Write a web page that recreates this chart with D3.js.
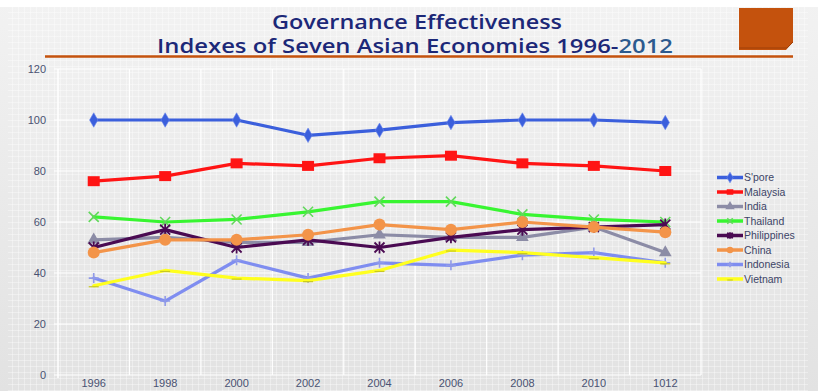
<!DOCTYPE html>
<html><head><meta charset="utf-8">
<script src="https://cdn.jsdelivr.net/npm/d3@7"></script>
<style>
html,body{margin:0;padding:0;background:#ececec;}
svg{display:block;}
</style></head>
<body>
<svg id="chart" width="818" height="391"></svg>
<script>
const years = ["1996","1998","2000","2002","2004","2006","2008","2010","1012"];
const yTicks = [0,20,40,60,80,100,120];
const seriesNames = ["S'pore","Malaysia","India","Thailand","Philippines","China","Indonesia","Vietnam"];
const spore       = [100,100,100,94,96,99,100,100,99];
const malaysia    = [76,78,83,82,85,86,83,82,80];
const india       = [53,54,52,52,55,54,54,58,48];
const thailand    = [62,60,61,64,68,68,63,61,60];
const philippines = [50,57,50,53,50,54,57,58,59];
const china       = [48,53,53,55,59,57,60,58,56];
const indonesia   = [38,29,45,38,44,43,47,48,44];
const vietnam     = [35,41,38,37,41,49,48,46,44];
const seriesValues = [spore,malaysia,india,thailand,philippines,china,indonesia,vietnam];
const colors = ["#3b5fdc","#ff1414","#8c8ca6","#38f531","#4a0a52","#f39449","#7f8df0","#ffff1e"];
const markers = ["diamond","square","triangle","x","star","circle","plus","dash"];

const svg = d3.select("#chart");
const W = 818, H = 391;

// background
const defs = svg.append("defs");
const bg = defs.append("linearGradient").attr("id","bg").attr("x1",0).attr("y1",0).attr("x2",0).attr("y2",1);
bg.append("stop").attr("offset","0%").attr("stop-color","#f2f2f2");
bg.append("stop").attr("offset","100%").attr("stop-color","#e2e2e2");
const pat = defs.append("pattern").attr("id","grid").attr("width",6).attr("height",6).attr("patternUnits","userSpaceOnUse");
pat.append("rect").attr("width",6).attr("height",6).attr("fill","none");
pat.append("path").attr("d","M0,0.5H6M0.5,0V6").attr("stroke","#ffffff").attr("stroke-opacity",0.35).attr("stroke-width",1);
svg.append("rect").attr("width",W).attr("height",H).attr("fill","url(#bg)");
svg.append("rect").attr("x",8).attr("y",0).attr("width",800).attr("height",H).attr("fill","url(#grid)");
svg.append("rect").attr("x",0).attr("y",0).attr("width",W).attr("height",7).attr("fill","#ffffff");

// title
const title = svg.append("g");
title.append("text").attr("x",417).attr("y",29).attr("text-anchor","middle")
  .attr("font-family","'Open Sans', Lato, sans-serif").attr("font-weight",600).attr("font-size",19)
  .attr("textLength",290).attr("lengthAdjust","spacingAndGlyphs")
  .attr("fill","#1c2878").text("Governance Effectiveness");
const t2 = title.append("text").attr("x",415).attr("y",53).attr("text-anchor","middle")
  .attr("font-family","'Open Sans', Lato, sans-serif").attr("font-weight",600).attr("font-size",19)
  .attr("textLength",516).attr("lengthAdjust","spacingAndGlyphs")
  .attr("fill","#1c2878");
t2.append("tspan").text("Indexes of Seven Asian Economies 1996-");
t2.append("tspan").attr("fill","#2c5a8e").text("2012");
svg.append("line").attr("x1",45).attr("x2",793).attr("y1",56.5).attr("y2",56.5)
  .attr("stroke","#c4520d").attr("stroke-width",2.5);
// orange box with bevel
svg.append("path").attr("d","M739,8H793V42L786,50H739Z").attr("fill","#c4520d");
svg.append("path").attr("d","M739,48H787L793,42").attr("fill","none").attr("stroke","#9e3f08").attr("stroke-width",1);

// scales
const x = d3.scaleBand().domain(years).range([58,701]);
const y = d3.scaleLinear().domain([0,120]).range([375,69]);

// gridlines
const grid = svg.append("g");
grid.selectAll("line.h").data(yTicks).join("line")
  .attr("x1",54).attr("x2",701).attr("y1",d=>y(d)).attr("y2",d=>y(d))
  .attr("stroke","#ffffff").attr("stroke-width",1.2);
grid.selectAll("line.v").data(years).join("line")
  .attr("x1",d=>x(d)+x.bandwidth()).attr("x2",d=>x(d)+x.bandwidth())
  .attr("y1",y(120)).attr("y2",y(0))
  .attr("stroke","#ffffff").attr("stroke-width",1.2);
grid.append("line").attr("x1",58).attr("x2",58).attr("y1",y(120)).attr("y2",y(0)+3)
  .attr("stroke","#ffffff").attr("stroke-width",1.5);

// axes
const yAxis = svg.append("g").attr("transform","translate(58,0)")
  .call(d3.axisLeft(y).tickValues(yTicks).tickSize(0).tickPadding(12));
yAxis.select(".domain").remove();
yAxis.selectAll("text").attr("font-family","'Liberation Sans', Arial, sans-serif").attr("font-size",11).attr("fill","#4a5272");
const xAxis = svg.append("g").attr("transform","translate(0,375)")
  .call(d3.axisBottom(x).tickSize(0).tickPadding(4));
xAxis.select(".domain").remove();
xAxis.selectAll("text").attr("font-family","'Liberation Sans', Arial, sans-serif").attr("font-size",11).attr("fill","#4a5272");

// marker drawing
function drawMarker(g, type, color, cx, cy, scale) {
  const s = scale || 1;
  switch(type) {
    case "diamond":
      g.append("path").attr("d",d3.symbol(d3.symbolDiamond, 60*s)()).attr("transform",`translate(${cx},${cy})`).attr("fill",color).attr("stroke","#6a86ec").attr("stroke-width",0.6); break;
    case "square":
      g.append("rect").attr("x",cx-6*s).attr("y",cy-5*s).attr("width",12*s).attr("height",10*s).attr("fill",color); break;
    case "triangle":
      g.append("path").attr("d",d3.symbol(d3.symbolTriangle, 70*s)()).attr("transform",`translate(${cx},${cy})`).attr("fill",color); break;
    case "x":
      g.append("path").attr("d",`M${cx-5*s},${cy-5*s}L${cx+5*s},${cy+5*s}M${cx-5*s},${cy+5*s}L${cx+5*s},${cy-5*s}`).attr("stroke","#62d85c").attr("stroke-width",1.6); break;
    case "star":
      g.append("path").attr("d",`M${cx-5*s},${cy-5*s}L${cx+5*s},${cy+5*s}M${cx-5*s},${cy+5*s}L${cx+5*s},${cy-5*s}M${cx},${cy-6*s}L${cx},${cy+6*s}`).attr("stroke",color).attr("stroke-width",1.8); break;
    case "circle":
      g.append("circle").attr("cx",cx).attr("cy",cy).attr("r",6*s).attr("fill",color); break;
    case "plus":
      g.append("path").attr("d",`M${cx-5*s},${cy}L${cx+5*s},${cy}M${cx},${cy-5*s}L${cx},${cy+5*s}`).attr("stroke","#909ae8").attr("stroke-width",1.6); break;
    case "dash":
      g.append("path").attr("d",`M${cx-5*s},${cy+1}L${cx+5*s},${cy+1}`).attr("stroke","#c8c820").attr("stroke-width",1.2); break;
  }
}

// lines and markers
const line = d3.line().x((d,i)=>x(years[i])+x.bandwidth()/2).y(d=>y(d));
const plot = svg.append("g");
seriesValues.forEach((vals,si)=>{
  const g = plot.append("g");
  g.append("path").datum(vals).attr("d",line).attr("fill","none")
    .attr("stroke",colors[si]).attr("stroke-width",3.2).attr("stroke-linejoin","round").attr("stroke-linecap","round");
  vals.forEach((v,i)=>drawMarker(g, markers[si], colors[si], x(years[i])+x.bandwidth()/2, y(v)));
});

// legend
const legend = svg.append("g");
seriesNames.forEach((name,i)=>{
  const ly = 177.5 + i*14.5;
  const g = legend.append("g");
  g.append("line").attr("x1",717).attr("x2",743).attr("y1",ly).attr("y2",ly).attr("stroke",colors[i]).attr("stroke-width",3.5);
  drawMarker(g, markers[i], colors[i], 730, ly, 0.55);
  g.append("text").attr("x",744).attr("y",ly+3.8).attr("font-family","'Liberation Sans', Arial, sans-serif")
    .attr("font-size",10.5).attr("fill","#3c4466").text(name);
});
</script>
</body></html>
